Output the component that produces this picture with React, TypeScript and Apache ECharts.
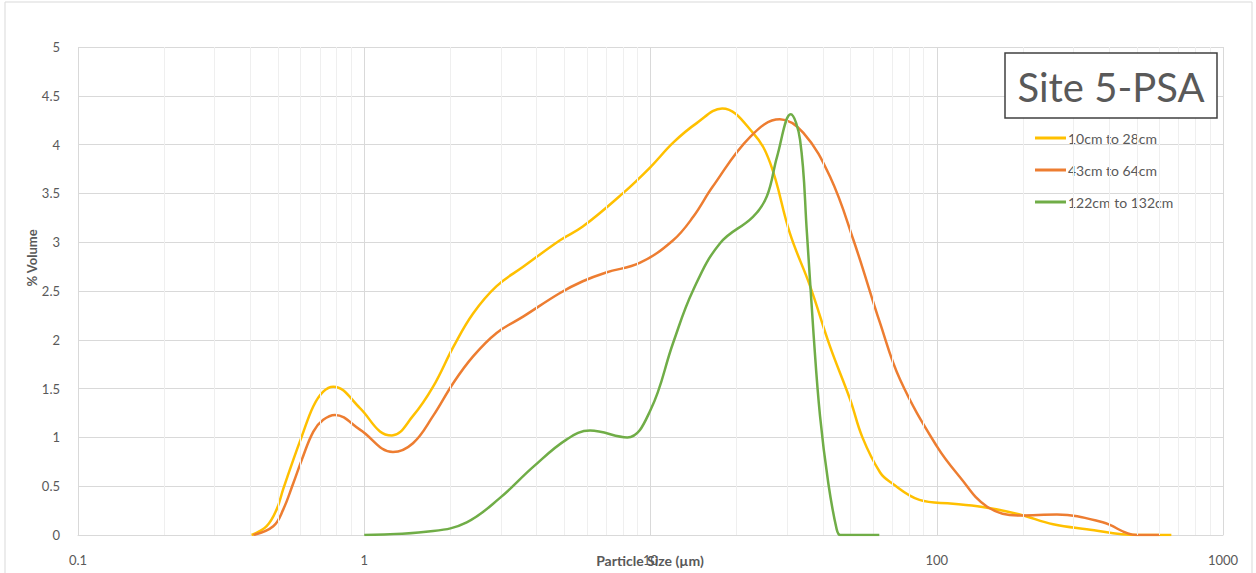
import React, { useEffect, useRef } from "react";
import * as echarts from "echarts";

const seriesNames = ["10cm to 28cm", "43cm to 64cm", "122cm to 132cm"];
const seriesColors = ["#FFC000", "#ED7D31", "#70AD47"];

const sizesA = [0.404, 0.456, 0.494, 0.521, 0.565, 0.605, 0.664, 0.719, 0.78, 0.966, 1.135, 1.25, 1.48, 1.74, 2.05, 2.4, 2.9, 3.6, 4.83, 5.8, 8.0, 10, 12, 14.5, 17.8, 22.8, 26.2, 30.7, 36.1, 42.4, 49.8, 55, 63.4, 69, 87, 114, 150, 195, 255, 334, 500, 660];
const valuesA = [0, 0.09, 0.26, 0.47, 0.77, 1.01, 1.32, 1.47, 1.52, 1.3, 1.06, 1.02, 1.22, 1.52, 1.93, 2.27, 2.55, 2.75, 3.02, 3.16, 3.5, 3.77, 4.02, 4.22, 4.37, 4.12, 3.81, 3.09, 2.55, 1.93, 1.39, 1.0, 0.64, 0.54, 0.36, 0.32, 0.28, 0.21, 0.11, 0.06, 0, 0];

const sizesB = [0.41, 0.481, 0.521, 0.565, 0.605, 0.664, 0.719, 0.79, 0.966, 1.26, 1.48, 1.74, 2.05, 2.4, 2.9, 3.6, 4.83, 5.8, 7.0, 9.2, 12, 14.1, 16.5, 22.3, 28.3, 34.2, 42.4, 51.2, 63.4, 74.5, 100, 120, 150, 195, 263, 380, 500, 600];
const valuesB = [0, 0.09, 0.26, 0.53, 0.77, 1.06, 1.18, 1.23, 1.08, 0.85, 0.94, 1.22, 1.56, 1.83, 2.07, 2.24, 2.48, 2.6, 2.69, 2.79, 3.02, 3.26, 3.57, 4.08, 4.26, 4.12, 3.67, 3.02, 2.17, 1.59, 0.91, 0.6, 0.29, 0.2, 0.21, 0.13, 0, 0];

const sizesC = [1.0, 1.74, 2.28, 2.98, 3.9, 5.1, 6.15, 8.3, 10, 12, 14.1, 17.5, 22.8, 25.5, 27.7, 30.9, 33.3, 35.2, 37.1, 39.1, 41.8, 44.7, 46, 50, 63];
const valuesC = [0, 0.04, 0.13, 0.38, 0.7, 0.98, 1.07, 1.0, 1.28, 1.97, 2.51, 2.99, 3.26, 3.47, 3.88, 4.31, 4.05, 3.09, 2.07, 1.22, 0.53, 0.06, 0, 0, 0];

const decades = [0.1, 1, 10, 100];
const minorMultipliers = [2, 3, 4, 5, 6, 7, 8, 9];

const FONT = "Lato, 'Open Sans', sans-serif";
const GRAY = "#595959";

function pairs(xs: number[], ys: number[]) {
  return xs.map((x, i) => [x, ys[i]]);
}

export default function App() {
  const ref = useRef<HTMLDivElement>(null);
  useEffect(() => {
    if (!ref.current) return;
    const chart = echarts.init(ref.current, undefined, { renderer: "svg" });
    const minorLines: any[] = [];
    decades.forEach((d) => minorMultipliers.forEach((m) => minorLines.push({ xAxis: +(d * m).toPrecision(6) })));
    const dataSets = [pairs(sizesA, valuesA), pairs(sizesB, valuesB), pairs(sizesC, valuesC)];
    chart.setOption({
      animation: false,
      backgroundColor: "#ffffff",
      grid: { left: 78, right: 33, top: 47, bottom: 38, containLabel: false, outerBoundsMode: "none" },
      xAxis: {
        type: "log",
        logBase: 10,
        min: 0.1,
        max: 1000,
        axisLine: { show: true, lineStyle: { color: "#d9d9d9" } },
        axisTick: { show: false },
        axisLabel: { color: GRAY, fontFamily: FONT, fontSize: 13, margin: 18, formatter: (v: number) => String(v) },
        splitLine: { show: true, lineStyle: { color: "#d9d9d9", width: 1 } },
      },
      yAxis: {
        type: "value",
        min: 0,
        max: 5,
        interval: 0.5,
        axisLine: { show: false },
        axisTick: { show: false },
        axisLabel: { color: GRAY, fontFamily: FONT, fontSize: 13, margin: 18 },
        splitLine: { show: true, lineStyle: { color: "#d9d9d9", width: 1 } },
      },
      legend: {
        data: seriesNames,
        orient: "vertical",
        left: 1035,
        top: 131,
        padding: 0,
        icon: "rect",
        itemWidth: 31,
        itemHeight: 3,
        itemGap: 18,
        textStyle: { color: GRAY, fontFamily: FONT, fontSize: 14, lineHeight: 14, padding: [0, 0, 0, -3] },
      },
      graphic: [
        {
          type: "rect",
          silent: true,
          z: -10,
          shape: { x: 5, y: 2, width: 1247, height: 620 },
          style: { fill: "none", stroke: "#d9d9d9", lineWidth: 1 },
        },
        {
          type: "rect",
          z: 50,
          shape: { x: 1005, y: 53, width: 212, height: 65 },
          style: { fill: "#ffffff", stroke: "#404040", lineWidth: 1.5 },
        },
        {
          type: "text",
          z: 51,
          x: 1111,
          y: 87,
          style: { text: "Site 5-PSA", fill: GRAY, font: `40px ${FONT}`, align: "center", verticalAlign: "middle" },
        },
        {
          type: "text",
          x: 32,
          y: 258,
          rotation: Math.PI / 2,
          style: { text: "% Volume", fill: GRAY, font: `bold 13px ${FONT}`, align: "center", verticalAlign: "middle" },
        },
        {
          type: "text",
          z: 60,
          x: 650,
          y: 560,
          style: { text: "Particle Size (µm)", fill: GRAY, font: `bold 14px ${FONT}`, align: "center", verticalAlign: "middle" },
        },
      ],
      series: [
        {
          name: "minor-grid",
          type: "line",
          data: [],
          silent: true,
          z: 1,
          markLine: {
            silent: true,
            symbol: ["none", "none"],
            label: { show: false },
            lineStyle: { color: "#efefef", type: "solid", width: 1 },
            data: minorLines,
            animation: false,
          },
        },
        ...seriesNames.map((name, i) => ({
          name,
          type: "line",
          data: dataSets[i],
          smooth: 0.4,
          showSymbol: false,
          symbol: "none",
          z: 3 + i,
          lineStyle: { color: seriesColors[i], width: 2.5 },
          itemStyle: { color: seriesColors[i] },
        })),
      ],
    });
    return () => chart.dispose();
  }, []);
  return <div ref={ref} style={{ position: "absolute", left: 0, top: 0, width: 1256, height: 573 }} />;
}
